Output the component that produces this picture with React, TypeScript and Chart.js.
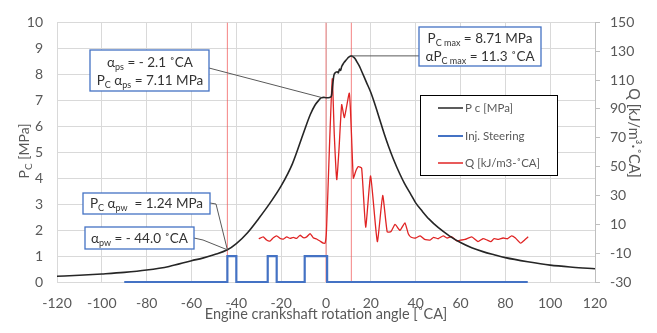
import { useEffect, useRef } from "react";
import { Chart, registerables } from "chart.js";

Chart.register(...registerables);

// ---- Data ----
const pcAngle = [-120, -110, -100, -90, -80, -70, -60, -55, -50, -44, -40, -35, -30, -25, -20, -15, -10, -7, -5, -3, -2.1, -1, 0, 1, 2, 2.5, 3, 3.5, 4, 5, 5.5, 6, 6.5, 7, 8, 9, 10, 11.3, 12, 13, 14, 15, 16, 17, 18, 20, 22, 24, 26, 28, 30, 33, 35, 38, 40, 43, 46, 50, 55, 60, 65, 70, 75, 80, 90, 100, 110, 120];
const pcValue = [0.22, 0.26, 0.31, 0.37, 0.46, 0.6, 0.82, 0.92, 1.05, 1.24, 1.48, 1.9, 2.45, 3.04, 3.7, 4.55, 5.75, 6.45, 6.8, 7.02, 7.1, 7.11, 7.1, 7.1, 7.12, 7.2, 7.6, 7.95, 8.05, 8.1, 8.05, 8.2, 8.15, 8.3, 8.45, 8.55, 8.65, 8.71, 8.68, 8.6, 8.45, 8.3, 8.1, 7.9, 7.7, 7.3, 6.8, 6.25, 5.7, 5.2, 4.75, 4.15, 3.8, 3.35, 3.05, 2.72, 2.42, 2.1, 1.78, 1.52, 1.32, 1.17, 1.05, 0.94, 0.78, 0.65, 0.57, 0.51];

const qAngle = [-30, -28, -26.5, -25, -23.5, -22, -20.5, -19, -17.5, -16, -14.6, -13.1, -11.6, -10.1, -8.6, -7.1, -5.7, -4.2, -2.7, -1.2, -0.4, 0.2, 1.5, 2.8, 3.7, 4.8, 5.8, 7.0, 8.2, 10.4, 11.3, 12.2, 13.3, 14.4, 15.9, 17.7, 19.9, 22.9, 25.3, 27.3, 29, 30.8, 33, 35.2, 36.7, 38, 40, 42, 44, 46.4, 48, 50, 52.3, 54, 56, 58.3, 60, 62, 65, 67.8, 70, 72, 73.5, 75, 77, 79, 81, 82.8, 84.5, 86.8, 88.5, 90.2];
const qValue = [0, 1.3, -0.9, -1.6, 0.7, 2, 0.2, -0.2, 1.3, 0.2, 0.9, 0.2, 2.4, 0.7, 1.3, 3.5, 0.7, -0.2, -1.6, -3.1, -3.1, 5, 62, 111, 72, 41, 62, 93, 84, 101, 75, 42, 47, 50, 49, 8, 43.5, -2, 30, 4.7, 5, 10, 5.8, 11, 3.5, 1, 0.5, 2, -0.5, -0.9, 1, 0, 2, 0.5, 1.5, -1.5, -1, -0.5, 1.3, -2, 0, -1, -2, 0, -0.5, 0.5, 0, 2, 0.5, -3.1, -1, 1.3];

const injAngle = [-90, -44, -44, -40, -40, -26, -26, -22, -22, -9.5, -9.5, 0.5, 0.5, 90];
const injValue = [0, 0, 1, 1, 0, 0, 1, 1, 0, 0, 1, 1, 0, 0];

const markerAngles = [-44, 0, 11.3];

const alphaPs = -2.1;
const pcAlphaPs = 7.11;
const alphaPcMax = 11.3;
const pcMax = 8.71;
const alphaPw = -44.0;
const pcAlphaPw = 1.24;

const seriesLabels = ["P c [MPa]", "Inj. Steering", "Q [kJ/m3-˚CA]"];
const seriesColors = ["#262626", "#4472C4", "#E02424"];

const FONT = "Lato, 'Open Sans', sans-serif";

type Seg = { t: string; sub?: boolean };

function richWidth(ctx: CanvasRenderingContext2D, segs: Seg[], size: number) {
  let w = 0;
  for (const s of segs) {
    ctx.font = `${s.sub ? Math.round(size * 0.68) : size}px ${FONT}`;
    w += ctx.measureText(s.t).width;
  }
  return w;
}

function drawRich(ctx: CanvasRenderingContext2D, segs: Seg[], cx: number, cy: number, size: number, color: string) {
  const w = richWidth(ctx, segs, size);
  let x = cx - w / 2;
  const base = cy + size * 0.35;
  ctx.fillStyle = color;
  ctx.textBaseline = "alphabetic";
  ctx.textAlign = "left";
  for (const s of segs) {
    ctx.font = `${s.sub ? Math.round(size * 0.68) : size}px ${FONT}`;
    ctx.fillText(s.t, x, s.sub ? base + size * 0.22 : base);
    x += ctx.measureText(s.t).width;
  }
}

function box(ctx: CanvasRenderingContext2D, x0: number, y0: number, x1: number, y1: number) {
  ctx.fillStyle = "#ffffff";
  ctx.fillRect(x0, y0, x1 - x0, y1 - y0);
  ctx.strokeStyle = "#4472C4";
  ctx.lineWidth = 1.3;
  ctx.strokeRect(x0, y0, x1 - x0, y1 - y0);
}

const overlayPlugin = {
  id: "overlay",
  afterDraw(chart: any) {
    const ctx: CanvasRenderingContext2D = chart.ctx;
    const xs = chart.scales.x;
    const yl = chart.scales.y;
    const txt = "#333333";
    ctx.save();

    // connectors
    ctx.strokeStyle = "#595959";
    ctx.lineWidth = 1;
    const ps = { x: xs.getPixelForValue(alphaPs), y: yl.getPixelForValue(pcAlphaPs) };
    const mx = { x: xs.getPixelForValue(alphaPcMax), y: yl.getPixelForValue(pcMax) };
    const pw = { x: xs.getPixelForValue(alphaPw), y: yl.getPixelForValue(pcAlphaPw) };
    ctx.beginPath();
    ctx.moveTo(209, 68);
    ctx.lineTo(ps.x, ps.y);
    ctx.moveTo(mx.x, mx.y);
    ctx.lineTo(419, mx.y);
    ctx.moveTo(210, 203);
    ctx.lineTo(216, 204);
    ctx.lineTo(pw.x, pw.y);
    ctx.moveTo(194, 238);
    ctx.lineTo(203, 240);
    ctx.lineTo(pw.x, pw.y);
    ctx.stroke();

    // annotation boxes
    box(ctx, 90, 50, 209, 91);
    drawRich(ctx, [{ t: "α" }, { t: "ps", sub: true }, { t: " = - " + Math.abs(alphaPs).toFixed(1) + " ˚CA" }], 150, 62, 13.5, txt);
    drawRich(ctx, [{ t: "P" }, { t: "C", sub: true }, { t: " α" }, { t: "ps", sub: true }, { t: " = " + pcAlphaPs.toFixed(2) + " MPa" }], 150, 80, 13.5, txt);

    box(ctx, 419, 27, 541, 66);
    drawRich(ctx, [{ t: "P" }, { t: "C max", sub: true }, { t: " = " + pcMax.toFixed(2) + " MPa" }], 480, 38, 13.5, txt);
    drawRich(ctx, [{ t: "αP" }, { t: "C max", sub: true }, { t: " = " + alphaPcMax.toFixed(1) + " ˚CA" }], 480, 56, 13.5, txt);

    box(ctx, 83, 193, 210, 214);
    drawRich(ctx, [{ t: "P" }, { t: "C", sub: true }, { t: " α" }, { t: "pw", sub: true }, { t: "  = " + pcAlphaPw.toFixed(2) + " MPa" }], 146.5, 203, 13.5, txt);

    box(ctx, 85, 227, 194, 249);
    drawRich(ctx, [{ t: "α" }, { t: "pw", sub: true }, { t: " = - " + Math.abs(alphaPw).toFixed(1) + " ˚CA" }], 139.5, 238, 13.5, txt);

    // legend
    ctx.fillStyle = "#ffffff";
    ctx.fillRect(420, 95, 138, 80);
    ctx.strokeStyle = "#000000";
    ctx.lineWidth = 1;
    ctx.strokeRect(420.5, 95.5, 137, 80);
    const ly = [108, 136, 163];
    for (let i = 0; i < 3; i++) {
      ctx.strokeStyle = seriesColors[i];
      ctx.lineWidth = i === 1 ? 2 : 1.5;
      ctx.beginPath();
      ctx.moveTo(438, ly[i]);
      ctx.lineTo(463, ly[i]);
      ctx.stroke();
      ctx.fillStyle = "#595959";
      ctx.font = `11.5px ${FONT}`;
      ctx.textAlign = "left";
      ctx.textBaseline = "middle";
      ctx.fillText(seriesLabels[i], 465, ly[i]);
    }

    // axis titles
    ctx.save();
    ctx.translate(24, 151);
    ctx.rotate(-Math.PI / 2);
    drawRich(ctx, [{ t: "P" }, { t: "C", sub: true }, { t: " [MPa]" }], 0, 0, 14, "#595959");
    ctx.restore();

    ctx.save();
    ctx.translate(634, 133);
    ctx.rotate(Math.PI / 2);
    drawRich(ctx, [{ t: "Q [kJ/m³·˚CA]" }], 0, 0, 14.5, "#595959");
    ctx.restore();

    drawRich(ctx, [{ t: "Engine crankshaft rotation angle [˚CA]" }], 326, 314, 14.5, "#595959");

    ctx.restore();
  },
};

export default function App() {
  const ref = useRef<HTMLCanvasElement | null>(null);

  useEffect(() => {
    document.body.style.margin = "0";
    const canvas = ref.current;
    if (!canvas) return;

    const toXY = (xa: number[], ya: number[]) => xa.map((x, i) => ({ x, y: ya[i] }));

    const markerSets = markerAngles.map((a) => ({
      label: "marker",
      data: [{ x: a, y: 0 }, { x: a, y: 10 }],
      borderColor: "rgba(240,90,90,0.75)",
      borderWidth: 1,
      pointRadius: 0,
      yAxisID: "y",
      order: 5,
    }));

    const tickFont = { size: 14, family: FONT };

    const chart = new Chart(canvas, {
      type: "line",
      data: {
        datasets: [
          ...markerSets,
          {
            label: seriesLabels[2],
            data: toXY(qAngle, qValue),
            borderColor: seriesColors[2],
            borderWidth: 1.3,
            pointRadius: 0,
            tension: 0.15,
            yAxisID: "y1",
            order: 3,
          },
          {
            label: seriesLabels[1],
            data: toXY(injAngle, injValue),
            borderColor: seriesColors[1],
            borderWidth: 2.2,
            pointRadius: 0,
            tension: 0,
            yAxisID: "y",
            clip: false as any,
            order: 2,
          },
          {
            label: seriesLabels[0],
            data: toXY(pcAngle, pcValue),
            borderColor: seriesColors[0],
            borderWidth: 1.6,
            pointRadius: 0,
            cubicInterpolationMode: "monotone",
            yAxisID: "y",
            order: 1,
          },
        ] as any,
      },
      options: {
        animation: false,
        responsive: false,
        devicePixelRatio: 1,
        layout: { padding: { top: 12, left: 0, right: 0, bottom: 0 } },
        plugins: { legend: { display: false }, tooltip: { enabled: false } },
        scales: {
          x: {
            type: "linear",
            min: -120,
            max: 120,
            ticks: { stepSize: 20, color: "#595959", font: tickFont, padding: 13 },
            grid: { color: "#d9d9d9", drawTicks: false },
            border: { display: false },
            afterFit: (s: any) => { s.height = 51; },
          },
          y: {
            type: "linear",
            position: "left",
            min: 0,
            max: 10,
            ticks: { stepSize: 1, color: "#595959", font: tickFont, padding: 14 },
            grid: { color: "#d9d9d9", drawTicks: false },
            border: { display: false },
            afterFit: (s: any) => { s.width = 57; },
          },
          y1: {
            type: "linear",
            position: "right",
            min: -30,
            max: 150,
            ticks: { stepSize: 20, color: "#595959", font: tickFont, padding: 10 },
            grid: { drawOnChartArea: false, color: "#bfbfbf", tickLength: 5 },
            border: { display: true, color: "#bfbfbf" },
            afterFit: (s: any) => { s.width = 62; },
          },
        },
      },
      plugins: [overlayPlugin],
    } as any);

    return () => chart.destroy();
  }, []);

  return <canvas ref={ref} width={657} height={333} style={{ display: "block" }} />;
}
